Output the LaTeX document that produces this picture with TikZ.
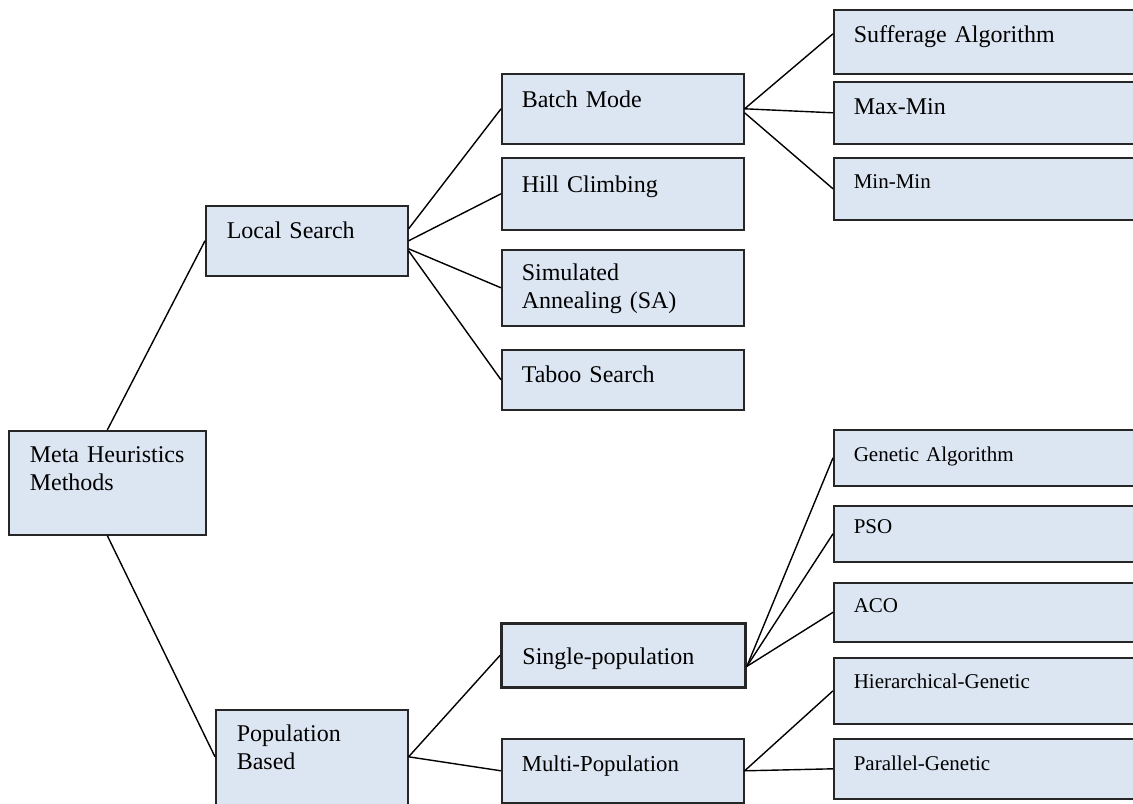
\documentclass[tikz,border=0pt]{standalone}
\usepackage{fontspec}
\setmainfont{Liberation Serif}
\usepackage{tikz}
\usetikzlibrary{arrows}
\definecolor{boxblue}{HTML}{DCE6F2}

\begin{document}
\begin{tikzpicture}[-,x=0.5pt,y=-0.5pt,
                    box/.style={draw=black!85,fill=boxblue,line width=0.8pt,anchor=north west,
                                inner ysep=0pt,inner xsep=10pt,align=left,font=\fontsize{12}{14}\selectfont},
                    small box/.style={box,font=\fontsize{10.5}{12.6}\selectfont},
                    link/.style={draw,line width=0.7pt}]
\clip (0,0) rectangle (1133,803);

% root and first level
\node[box] (meta) at (8,430) [inner xsep=10.5pt,text width=77.5pt,text height=16pt,text depth=36pt] {Meta Heuristics\\Methods};
\node[box] (local) at (205,205) [inner xsep=10.5pt,text width=80pt,text height=16.5pt,text depth=18.5pt] {Local Search};
\node[box] (popu) at (215,709) [inner xsep=10.5pt,text width=75pt,text height=16pt,text depth=36pt] {Population\\Based};

% second level
\node[box] (batch) at (501,73) [text width=101pt,text height=17pt,text depth=18pt] {Batch Mode};
\node[box] (hill) at (501,157) [text width=101pt,text height=17.5pt,text depth=18.5pt] {Hill Climbing};
\node[box] (sa) at (501,249) [text width=101pt,text height=15.5pt,text depth=22.5pt] {Simulated\\Annealing (SA)};
\node[box] (taboo) at (501,349) [text width=101pt,text height=16.5pt,text depth=13.5pt] {Taboo Search};
\node[box] (single) at (500,622) [line width=1.4pt,inner xsep=10.5pt,text width=101pt,text height=20.5pt,text depth=11.5pt] {Single-population};
\node[box] (multi) at (501,738) [font=\fontsize{11.4}{13.7}\selectfont,text width=101pt,text height=16.5pt,text depth=15.5pt] {Multi-Population};

% third level
\node[box] (suff) at (833,9) [text width=135pt,text height=16.5pt,text depth=15.5pt] {Sufferage Algorithm};
\node[box] (maxmin) at (833,81) [text width=135pt,text height=16.5pt,text depth=14.5pt] {Max-Min};
\node[small box] (minmin) at (833,157) [text width=135pt,text height=15.5pt,text depth=15.5pt] {Min-Min};
\node[small box] (genetic) at (833,429) [text width=135pt,text height=16pt,text depth=12pt] {Genetic Algorithm};
\node[small box] (pso) at (833,505) [text width=135pt,text height=14pt,text depth=14pt] {PSO};
\node[small box] (aco) at (833,582) [text width=135pt,text height=15pt,text depth=14.5pt] {ACO};
\node[small box] (hier) at (833,657) [text width=135pt,text height=15.5pt,text depth=17.5pt] {Hierarchical-Genetic};
\node[small box] (parallel) at (833,738) [text width=135pt,text height=16pt,text depth=14pt] {Parallel-Genetic};

\path[link]
(meta.north) edge (local.west)
(meta.south) edge ([yshift=2.5pt]popu.west)
([yshift=6pt]local.east) edge (batch.west)
(local.east) edge (hill.west)
([yshift=-4pt]local.east) edge (sa.west)
([yshift=-5pt]local.east) edge (taboo.west)
(batch.east) edge ([yshift=4pt]suff.west)
             edge (maxmin.west)
([yshift=-2pt]batch.east) edge (minmin.west)
([yshift=2.5pt]popu.east) edge (single.west)
                          edge (multi.west)
([yshift=-5.5pt]single.east) edge (genetic.west)
                             edge (pso.west)
                             edge (aco.west)
(multi.east) edge (hier.west)
             edge (parallel.west);
\end{tikzpicture}
\end{document}
